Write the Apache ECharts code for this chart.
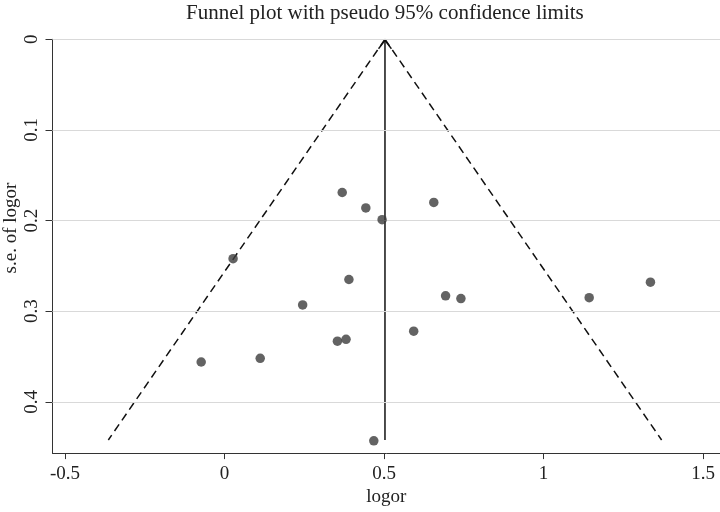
<!DOCTYPE html>
<html>
<head>
<meta charset="utf-8">
<script src="https://cdn.jsdelivr.net/npm/echarts@6/dist/echarts.min.js"></script>
<style>html,body{margin:0;padding:0;background:#fff}#c{width:720px;height:512px}</style>
</head>
<body>
<div id="c"></div>
<script>
// study estimates (logor) and standard errors
var logor = [0.369, 0.443, 0.494, 0.656, 0.027, 0.390, 0.693, 0.741, 0.245, 0.593, 0.354, 0.381, -0.073, 0.112, 1.143, 1.335, 0.468];
var seLogor = [0.169, 0.186, 0.199, 0.180, 0.242, 0.265, 0.283, 0.286, 0.293, 0.322, 0.333, 0.331, 0.356, 0.352, 0.285, 0.268, 0.443];
// funnel (pseudo 95% limits) and pooled estimate line endpoints
var funnelLeft = [[0.503, 0], [-0.364, 0.442]];
var funnelRight = [[0.503, 0], [1.370, 0.442]];
var pooledLine = [[0.503, 0], [0.503, 0.442]];
var xTicks = [-0.5, 0, 0.5, 1, 1.5];
var yTicks = [0, 0.1, 0.2, 0.3, 0.4];

var serif = 'Liberation Serif, Times New Roman, serif';
var points = logor.map(function (v, i) { return [v, seLogor[i]]; });

var chart = echarts.init(document.getElementById('c'), null, {renderer: 'canvas'});
chart.setOption({
  animation: false,
  backgroundColor: '#fff',
  grid: {left: 52.5, right: 0, top: 39.3, bottom: 55.5, containLabel: false},
  xAxis: {
    type: 'value', min: -0.539, max: 1.553,
    axisLine: {show: true, onZero: false, lineStyle: {color: '#333', width: 1}},
    axisTick: {show: true, length: 6, customValues: xTicks, lineStyle: {color: '#333'}},
    axisLabel: {customValues: xTicks, margin: 11, fontFamily: serif, fontSize: 19, color: '#222'},
    splitLine: {show: false},
    name: 'logor', nameLocation: 'middle', nameGap: 30,
    nameTextStyle: {fontFamily: serif, fontSize: 19, color: '#222'}
  },
  yAxis: {
    type: 'value', min: 0, max: 0.4565, inverse: true,
    axisLine: {show: true, onZero: false, lineStyle: {color: '#333', width: 1}},
    axisTick: {show: true, length: 7, customValues: yTicks, lineStyle: {color: '#333'}},
    axisLabel: {customValues: yTicks, rotate: 90, margin: 11, fontFamily: serif, fontSize: 19, color: '#222'},
    splitLine: {show: false}
  },
  graphic: [
    {type: 'text', left: 386 - 200, top: 3, style: {text: 'Funnel plot with pseudo 95% confidence limits', x: 200, y: 0, textAlign: 'center', font: '21px ' + serif, fill: '#222'}},
    {type: 'text', x: 11, y: 228, rotation: Math.PI / 2, style: {text: 's.e. of logor', textAlign: 'center', textVerticalAlign: 'middle', font: '19px ' + serif, fill: '#222'}}
  ],
  series: [
    {
      type: 'line', data: [], silent: true,
      markLine: {
        silent: true, symbol: 'none', label: {show: false},
        lineStyle: {color: '#d9d9d9', width: 1, type: 'solid'},
        data: yTicks.map(function (t) { return {yAxis: t}; })
      }
    },
    {type: 'line', data: funnelLeft, symbol: 'none', lineStyle: {color: '#111', width: 1.5, type: [8, 5]}, z: 3},
    {type: 'line', data: funnelRight, symbol: 'none', lineStyle: {color: '#111', width: 1.5, type: [8, 5]}, z: 3},
    {
      type: 'line', z: 4,
      data: pooledLine.map(function (p, i) {
        return i === 0
          ? {value: p, symbol: 'path://M0,10 L10,0 L20,10 L18.4,11.2 L10,2.6 L1.6,11.2 Z', symbolSize: [14, 10], symbolOffset: [0, '50%'], itemStyle: {color: '#111', borderWidth: 0}}
          : {value: p, symbol: 'none'};
      }),
      lineStyle: {color: '#111', width: 1.5}
    },
    {type: 'scatter', data: points, symbol: 'circle', symbolSize: 9.5, itemStyle: {color: '#3c3c3c'}, z: 5}
  ]
});
</script>
</body>
</html>
